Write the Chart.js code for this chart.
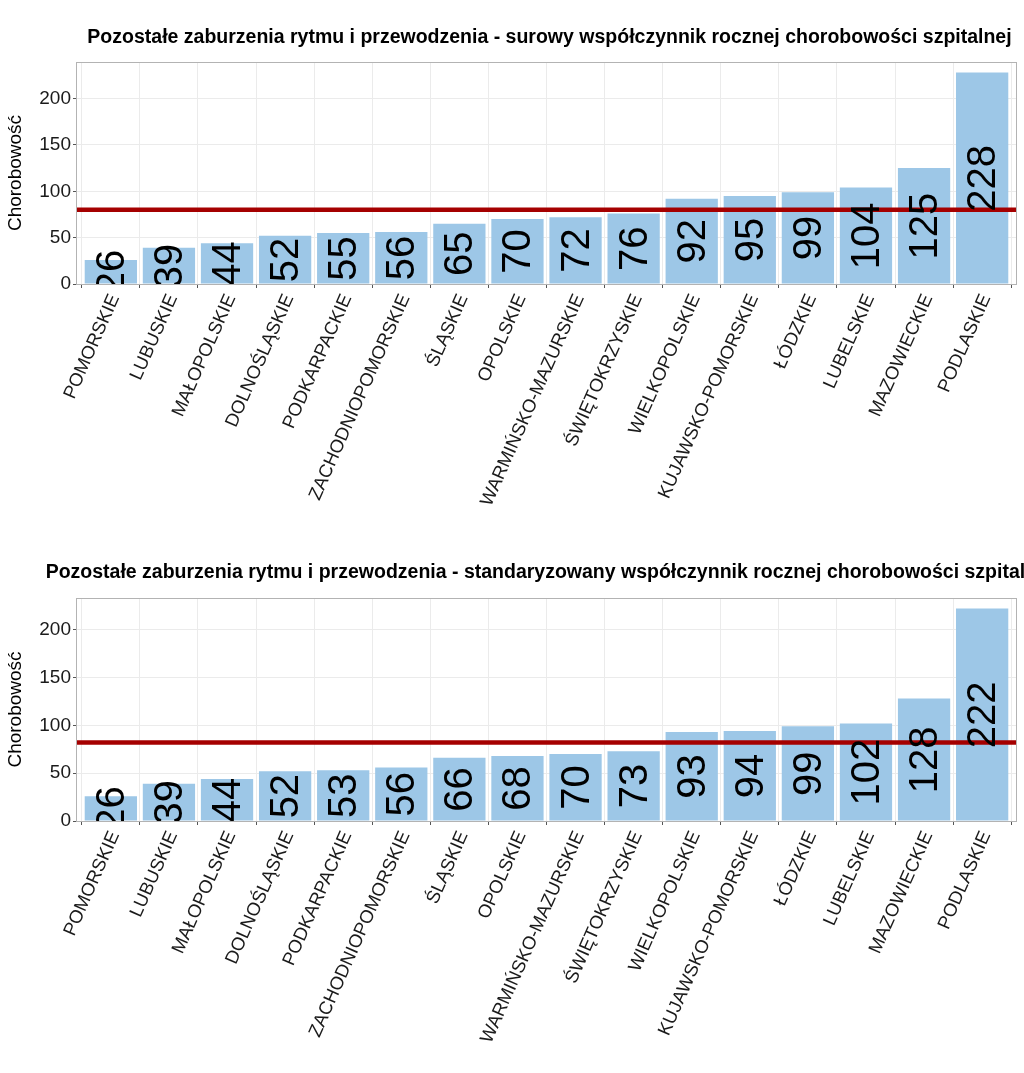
<!DOCTYPE html>
<html>
<head>
<meta charset="utf-8">
<script src="https://cdn.jsdelivr.net/npm/chart.js@4.4.0/dist/chart.umd.min.js"></script>
<style>
  body { margin: 0; background: #fff; }
  canvas { display: block; }
</style>
</head>
<body>
<canvas id="chart-raw" width="1024" height="536"></canvas>
<canvas id="chart-std" width="1024" height="537"></canvas>
<script>
const regions = ['POMORSKIE', 'LUBUSKIE', 'MAŁOPOLSKIE', 'DOLNOŚLĄSKIE', 'PODKARPACKIE',
  'ZACHODNIOPOMORSKIE', 'ŚLĄSKIE', 'OPOLSKIE', 'WARMIŃSKO-MAZURSKIE', 'ŚWIĘTOKRZYSKIE',
  'WIELKOPOLSKIE', 'KUJAWSKO-POMORSKIE', 'ŁÓDZKIE', 'LUBELSKIE', 'MAZOWIECKIE', 'PODLASKIE'];
const rawValues = [26, 39, 44, 52, 55, 56, 65, 70, 72, 76, 92, 95, 99, 104, 125, 228];
const stdValues = [26, 39, 44, 52, 53, 56, 66, 68, 70, 73, 93, 94, 99, 102, 128, 222];
const rawTitle = 'Pozostałe zaburzenia rytmu i przewodzenia - surowy współczynnik rocznej chorobowości szpitalnej';
const stdTitle = 'Pozostałe zaburzenia rytmu i przewodzenia - standaryzowany współczynnik rocznej chorobowości szpitalnej';
const rawRef = 80;
const stdRef = 82;
const yTicks = [0, 50, 100, 150, 200];

const family = '"Liberation Sans", Arial, sans-serif';

// panel border, reference line, value labels and title
const decorations = {
  id: 'decorations',
  afterDatasetsDraw(chart, args, opts) {
    const {ctx, chartArea: a, scales: {x, y}} = chart;
    const yRef = y.getPixelForValue(opts.ref);
    ctx.save();
    ctx.strokeStyle = '#a50000';
    ctx.lineWidth = 4.5;
    ctx.beginPath();
    ctx.moveTo(a.left, yRef);
    ctx.lineTo(a.right, yRef);
    ctx.stroke();

    ctx.beginPath();
    ctx.rect(a.left, a.top, a.right - a.left, a.bottom - a.top);
    ctx.clip();
    ctx.fillStyle = '#000';
    ctx.font = '40px ' + family;
    ctx.textAlign = 'center';
    ctx.textBaseline = 'middle';
    chart.data.datasets[0].data.forEach(p => {
      ctx.save();
      ctx.translate(x.getPixelForValue(p.x), y.getPixelForValue(p.y / 2));
      ctx.rotate(-Math.PI / 2);
      ctx.fillText(String(p.y), 0, 2);
      ctx.restore();
    });
    ctx.restore();

    ctx.save();
    ctx.strokeStyle = '#b3b3b3';
    ctx.lineWidth = 1;
    ctx.strokeRect(a.left + 0.5, a.top + 0.5, a.right - a.left - 1, a.bottom - a.top);
    ctx.restore();
  },
  afterDraw(chart, args, opts) {
    const {ctx, chartArea: a} = chart;
    ctx.save();
    ctx.fillStyle = '#000';
    ctx.font = 'bold 19.5px ' + family;
    ctx.textAlign = 'center';
    ctx.textBaseline = 'alphabetic';
    ctx.fillText(opts.title, (a.left + a.right) / 2 + 3, opts.titleY);
    ctx.restore();
  }
};

function makeChart(id, values, title, ref, yMax, titleY) {
  new Chart(document.getElementById(id), {
    type: 'bar',
    data: {
      datasets: [{
        data: values.map((v, i) => ({x: i, y: v})),
        backgroundColor: '#9dc7e7',
        categoryPercentage: 1,
        barPercentage: 0.9
      }]
    },
    options: {
      responsive: false,
      animation: false,
      layout: {padding: {top: 62, right: 7, left: 0, bottom: 0}},
      scales: {
        x: {
          type: 'linear',
          min: -0.6,
          max: regions.length - 0.4,
          offset: false,
          afterBuildTicks: s => { s.ticks = regions.map((_, i) => ({value: i})); },
          afterFit: s => { s.height = 252; },
          ticks: {
            autoSkip: false,
            minRotation: 66,
            maxRotation: 66,
            callback: v => regions[v],
            font: {size: 18.5, family},
            color: '#1a1a1a',
            padding: 3,
            labelOffset: 4
          },
          grid: {color: '#ebebeb', tickColor: '#555', tickLength: 4},
          border: {display: false}
        },
        y: {
          min: 0,
          max: yMax,
          afterBuildTicks: s => { s.ticks = yTicks.map(v => ({value: v})); },
          afterFit: s => { s.width = 76; },
          ticks: {font: {size: 19, family}, color: '#1a1a1a', padding: 2},
          grid: {color: '#ebebeb', tickColor: '#555', tickLength: 3},
          border: {display: false},
          title: {
            display: true,
            text: 'Chorobowość',
            font: {size: 19, family},
            color: '#000',
            padding: {top: 4, bottom: 0}
          }
        }
      },
      plugins: {
        legend: {display: false},
        tooltip: {enabled: false},
        decorations: {ref, title, titleY}
      }
    },
    plugins: [decorations]
  });
}

makeChart('chart-raw', rawValues, rawTitle, rawRef, 239.4, 43);
makeChart('chart-std', stdValues, stdTitle, stdRef, 233.1, 42);
</script>
</body>
</html>
